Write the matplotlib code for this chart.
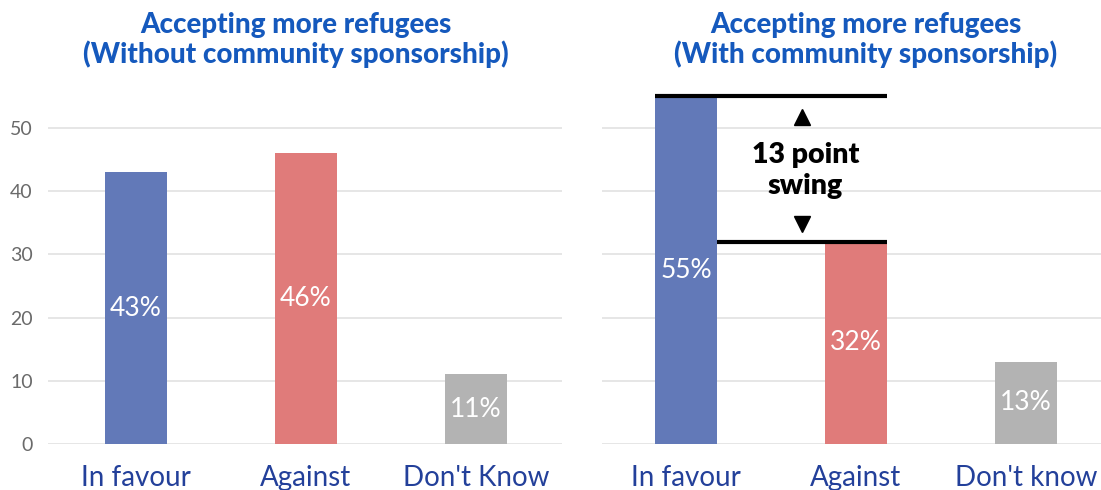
import matplotlib
matplotlib.use("Agg")
import matplotlib.pyplot as plt

# data
categories_left = ["In favour", "Against", "Don't Know"]
categories_right = ["In favour", "Against", "Don't know"]
without_sponsorship = [43, 46, 11]
with_sponsorship = [55, 32, 13]
bar_colors = ["#6279B8", "#E07B7A", "#B3B3B3"]
yticks = [0, 10, 20, 30, 40, 50]
swing_label = "13 point\nswing"

title_color = "#1559BD"
tick_color = "#23409A"

plt.rcParams['font.family'] = ['Lato', 'DejaVu Sans']

fig = plt.figure(figsize=(11.01, 4.9), dpi=100)
ax1 = fig.add_axes([48/1101, 46/490, 514/1101, 366.6/490])
ax2 = fig.add_axes([602/1101, 46/490, 499/1101, 366.6/490])

width = 0.365


def draw(ax, cats, vals, xlim, show_y):
    x = range(len(cats))
    bars = ax.bar(x, vals, width=width, color=bar_colors, zorder=2)
    for b, v in zip(bars, vals):
        ax.text(b.get_x() + b.get_width() / 2, v / 2, f"{v}%", ha="center", va="center",
                color="white", fontsize=19, fontweight="normal", zorder=3)
    ax.set_xlim(*xlim)
    ax.set_ylim(0, 58)
    ax.set_yticks(yticks)
    ax.set_xticks(list(x))
    ax.set_xticklabels(cats, fontsize=20, color=tick_color, fontweight="normal")
    ax.yaxis.grid(True, color="#E2E2E2", linewidth=1.2, zorder=0)
    ax.set_axisbelow(True)
    for s in ax.spines.values():
        s.set_visible(False)
    ax.tick_params(axis="x", length=0, pad=15)
    ax.tick_params(axis="y", length=0, pad=11, labelsize=14, labelcolor="#6A6A6A")
    if not show_y:
        ax.set_yticklabels([])
    return bars


draw(ax1, categories_left, without_sponsorship, (-0.518, 2.506), True)
bars2 = draw(ax2, categories_right, with_sponsorship, (-0.494, 2.441), False)

# swing annotation
b0, b1 = bars2[0], bars2[1]
right_edge = b1.get_x() + b1.get_width()
ax2.hlines(with_sponsorship[0], b0.get_x(), right_edge, color="black", linewidth=3, zorder=4)
ax2.hlines(with_sponsorship[1], b0.get_x() + b0.get_width(), right_edge, color="black", linewidth=3, zorder=4)
xm = (b0.get_x() + b0.get_width() + b1.get_x() + b1.get_width()) / 2
ax2.plot([xm], [51.7], marker="^", color="black", markersize=12, zorder=4)
ax2.plot([xm], [34.8], marker="v", color="black", markersize=12, zorder=4)
ax2.text(xm + 0.02, 43.3, swing_label, ha="center", va="center", fontsize=20.5,
         fontweight="heavy", color="black", linespacing=1.25)

fig.text(296/1101, 1 - 40/490, "Accepting more refugees\n(Without community sponsorship)",
         ha="center", va="center", fontsize=20, fontweight="black", color=title_color,
         linespacing=1.15)
fig.text(866/1101, 1 - 40/490, "Accepting more refugees\n(With community sponsorship)",
         ha="center", va="center", fontsize=20, fontweight="black", color=title_color,
         linespacing=1.15)

fig.savefig("out.png", dpi=100)
